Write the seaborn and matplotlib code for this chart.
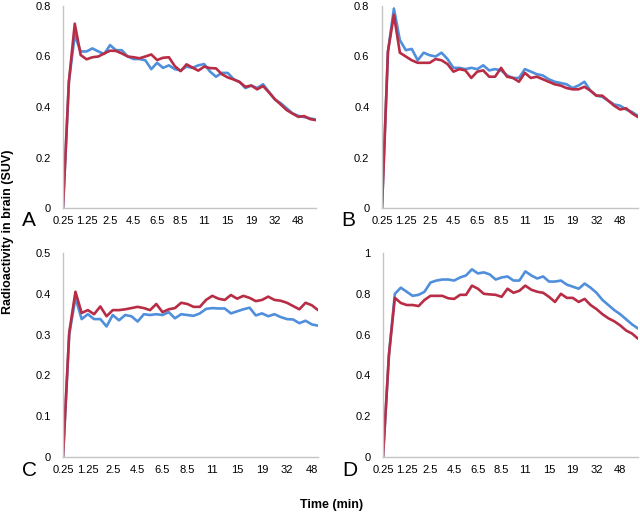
import numpy as np
import pandas as pd
import matplotlib
matplotlib.use("Agg")
import matplotlib.pyplot as plt
import seaborn as sns

sns.set_style("white")
plt.rcParams['font.family'] = ['Liberation Sans', 'DejaVu Sans']
plt.rcParams['text.color'] = 'black'
plt.rcParams['xtick.color'] = 'black'
plt.rcParams['ytick.color'] = 'black'

# frame mid times (min); only every 4th one is labelled on the axis
times = [0.25, 0.5, 0.75, 1.0, 1.25, 1.5, 1.75, 2.0, 2.5, 3.0, 3.5, 4.0,
         4.5, 5.0, 5.5, 6.0, 6.5, 7.0, 7.5, 8.0, 8.5, 9.0, 9.5, 10.0,
         11, 12, 13, 14, 15, 16, 17, 18, 19, 22, 25, 28,
         32, 36, 40, 44, 48, 52, 56, 60]

# panel A
a_blue = [0, 0.5, 0.685, 0.62, 0.62, 0.632, 0.62, 0.61, 0.645, 0.625, 0.625, 0.60,
          0.59, 0.59, 0.585, 0.55, 0.575, 0.555, 0.565, 0.55, 0.545, 0.56, 0.555, 0.565,
          0.57, 0.54, 0.52, 0.535, 0.535, 0.51, 0.50, 0.475, 0.485, 0.475, 0.49, 0.46,
          0.43, 0.415, 0.395, 0.375, 0.365, 0.36, 0.355, 0.35]
a_red = [0, 0.5, 0.73, 0.606, 0.589, 0.597, 0.60, 0.612, 0.623, 0.622, 0.612, 0.60,
         0.597, 0.593, 0.60, 0.608, 0.586, 0.595, 0.597, 0.562, 0.542, 0.569, 0.556, 0.544,
         0.56, 0.554, 0.553, 0.53, 0.517, 0.509, 0.499, 0.48, 0.485, 0.47, 0.483, 0.458,
         0.431, 0.41, 0.388, 0.374, 0.361, 0.364, 0.352, 0.348]

# panel B
b_blue = [0, 0.62, 0.79, 0.665, 0.625, 0.63, 0.585, 0.615, 0.605, 0.60, 0.615, 0.59,
          0.555, 0.555, 0.55, 0.555, 0.55, 0.565, 0.545, 0.55, 0.545, 0.525, 0.515, 0.515,
          0.55, 0.54, 0.53, 0.525, 0.51, 0.50, 0.495, 0.49, 0.475, 0.485, 0.50, 0.465,
          0.445, 0.44, 0.425, 0.41, 0.405, 0.39, 0.38, 0.365]
b_red = [0, 0.62, 0.765, 0.615, 0.60, 0.585, 0.575, 0.575, 0.575, 0.59, 0.585, 0.57,
         0.54, 0.55, 0.545, 0.515, 0.54, 0.545, 0.52, 0.52, 0.555, 0.52, 0.515, 0.50,
         0.535, 0.515, 0.52, 0.51, 0.50, 0.49, 0.485, 0.475, 0.47, 0.47, 0.48, 0.465,
         0.445, 0.445, 0.425, 0.405, 0.39, 0.395, 0.375, 0.36]

# panel C (shorter scan)
c_blue = [0, 0.30, 0.39, 0.338, 0.35, 0.338, 0.338, 0.32, 0.348, 0.335, 0.348, 0.345,
          0.332, 0.35, 0.348, 0.35, 0.348, 0.355, 0.34, 0.35, 0.348, 0.346, 0.352, 0.363,
          0.365, 0.364, 0.364, 0.352, 0.357, 0.362, 0.366, 0.347, 0.352, 0.345, 0.35, 0.343,
          0.338, 0.337, 0.328, 0.334, 0.325, 0.322]
c_red = [0, 0.305, 0.405, 0.353, 0.36, 0.35, 0.369, 0.345, 0.36, 0.36, 0.362, 0.365,
         0.368, 0.365, 0.36, 0.375, 0.355, 0.362, 0.365, 0.378, 0.375, 0.368, 0.368, 0.385,
         0.395, 0.388, 0.385, 0.397, 0.388, 0.395, 0.39, 0.382, 0.385, 0.393, 0.385, 0.383,
         0.378, 0.37, 0.362, 0.378, 0.372, 0.36]

# panel D
d_blue = [0, 0.5, 0.80, 0.83, 0.81, 0.79, 0.795, 0.81, 0.855, 0.865, 0.87, 0.87,
          0.865, 0.88, 0.89, 0.92, 0.90, 0.905, 0.895, 0.87, 0.88, 0.885, 0.865, 0.865,
          0.91, 0.89, 0.875, 0.885, 0.86, 0.86, 0.865, 0.845, 0.835, 0.825, 0.85, 0.83,
          0.805, 0.77, 0.745, 0.72, 0.70, 0.675, 0.65, 0.63]
d_red = [0, 0.5, 0.78, 0.755, 0.745, 0.745, 0.74, 0.77, 0.79, 0.79, 0.79, 0.778,
         0.775, 0.795, 0.795, 0.84, 0.825, 0.80, 0.797, 0.795, 0.785, 0.825, 0.805, 0.815,
         0.84, 0.82, 0.81, 0.805, 0.785, 0.76, 0.80, 0.78, 0.78, 0.76, 0.775, 0.745,
         0.725, 0.70, 0.68, 0.665, 0.645, 0.62, 0.605, 0.58]

blue = "#4f8fdc"
red = "#b82d45"

panels = [
    ("A", a_blue, a_red, [0.0, 0.2, 0.4, 0.6, 0.8], [63, 316, 6, 208]),
    ("B", b_blue, b_red, [0.0, 0.2, 0.4, 0.6, 0.8], [382, 638, 6, 208]),
    ("C", c_blue, c_red, [0.0, 0.1, 0.2, 0.3, 0.4, 0.5], [63, 318, 253, 457]),
    ("D", d_blue, d_red, [0.0, 0.2, 0.4, 0.6, 0.8, 1.0], [383, 638, 253, 457]),
]

W, H = 640, 512
fig = plt.figure(figsize=(6.4, 5.12), dpi=100)

for letter, yb, yr, yt, (x0, x1, y0, y1) in panels:
    ax = fig.add_axes([x0 / W, 1 - y1 / H, (x1 - x0) / W, (y1 - y0) / H])
    n = len(yb)
    df = pd.DataFrame({"idx": np.arange(n), "blue": yb, "red": yr})
    sns.lineplot(data=df, x="idx", y="blue", color=blue, lw=1.9, ax=ax)
    sns.lineplot(data=df, x="idx", y="red", color=red, lw=1.9, ax=ax)
    ax.set_xlim(0, n - 1)
    ax.set_ylim(yt[0], yt[-1])
    ax.set_yticks(yt)
    ax.set_yticklabels(["%g" % v for v in yt])
    pos = list(range(0, n, 4))
    ax.set_xticks(pos)
    ax.set_xticklabels(["%g" % times[i] for i in pos])
    ax.tick_params(length=0, labelsize=8)
    ax.tick_params(axis="y", pad=9)
    ax.tick_params(axis="x", pad=6)
    ax.set_xlabel("")
    ax.set_ylabel("")
    for s in ["top", "right"]:
        ax.spines[s].set_visible(False)
    for s in ["left", "bottom"]:
        ax.spines[s].set_color("#c4c4c4")
        ax.spines[s].set_linewidth(1.0)
    fig.text((x0 - 41) / W, 1 - (y1 + 13) / H, letter, fontsize=15,
             ha="left", va="center")

fig.text(8 / W, 1 - 232 / H, "Radioactivity in brain (SUV)", rotation=90,
         fontsize=9, fontweight="bold", ha="center", va="center")
fig.text(332 / W, 1 - 505 / H, "Time (min)", fontsize=9, fontweight="bold",
         ha="center", va="center")

fig.savefig("out.png", dpi=100)
